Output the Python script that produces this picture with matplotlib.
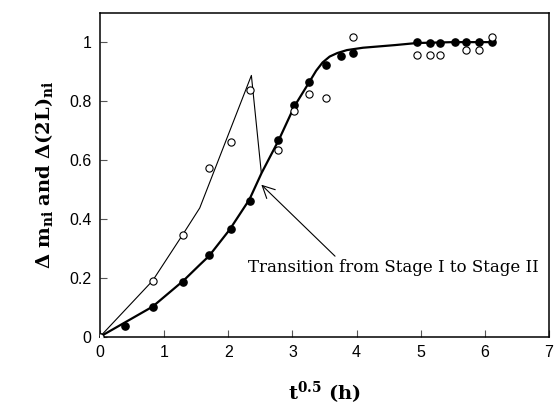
import numpy as np
import matplotlib
matplotlib.use('Agg')
import matplotlib.pyplot as plt

plt.rcParams['mathtext.fontset'] = 'dejavuserif'

# solid symbols: delta m_ni
x_filled = [0.0, 0.39, 0.82, 1.30, 1.70, 2.04, 2.34, 2.78, 3.02, 3.26, 3.52, 3.76, 3.94,
            4.94, 5.14, 5.30, 5.53, 5.71, 5.91, 6.11]
y_filled = [0.0, 0.036, 0.102, 0.187, 0.276, 0.364, 0.462, 0.667, 0.787, 0.864, 0.924, 0.954, 0.962,
            1.0, 0.996, 0.997, 1.0, 1.0, 1.0, 1.0]

# open symbols: delta (2L)_ni
x_open = [0.0, 0.82, 1.30, 1.70, 2.04, 2.34, 2.78, 3.02, 3.26, 3.52, 3.94,
          4.94, 5.14, 5.30, 5.71, 5.91, 6.11]
y_open = [0.0, 0.189, 0.345, 0.574, 0.662, 0.839, 0.633, 0.765, 0.824, 0.811, 1.017,
          0.958, 0.958, 0.958, 0.974, 0.974, 1.019]

# fitted curves
x_fit = [0.0, 0.82, 1.30, 1.555, 1.70, 2.02, 2.33, 2.52, 2.79, 3.03, 3.27, 3.37, 3.47, 3.58,
         3.70, 3.85, 4.10, 4.60, 4.94, 5.50, 6.11]
y_fit = [0.0, 0.102, 0.19, 0.244, 0.274, 0.363, 0.466, 0.556, 0.669, 0.782, 0.867, 0.903, 0.931, 0.951,
         0.963, 0.973, 0.981, 0.99, 0.997, 1.0, 1.0]

x_thin = [0.0, 0.82, 1.30, 1.555, 2.36, 2.515]
y_thin = [0.0, 0.19, 0.35, 0.437, 0.887, 0.556]

xticks = [0, 1, 2, 3, 4, 5, 6, 7]
yticks = [0, 0.2, 0.4, 0.6, 0.8, 1.0]
yticklabels = ['0', '0.2', '0.4', '0.6', '0.8', '1']

fig = plt.figure(figsize=(5.54, 4.09), dpi=100)
ax = fig.add_axes([0.1805, 0.1768, 0.8105, 0.7922])

ax.plot(x_thin, y_thin, color='black', lw=0.8)
ax.plot(x_fit, y_fit, color='black', lw=1.6, solid_joinstyle='round')
ax.plot(x_filled, y_filled, 'o', color='black', ms=5.2, zorder=3)
ax.plot(x_open, y_open, 'o', mfc='white', mec='black', mew=0.8, ms=5.2, zorder=3)

ax.annotate('Transition from Stage I to Stage II', xy=(2.515, 0.516), xytext=(4.57, 0.235),
            ha='center', va='center', fontsize=12, family='DejaVu Serif',
            arrowprops=dict(arrowstyle='->', color='black', lw=0.8,
                            mutation_scale=22, shrinkA=0, shrinkB=0,
                            relpos=(0.31, 1.0)))

ax.set_xlim(0, 7)
ax.set_ylim(0, 1.1)
ax.set_xticks(xticks)
ax.set_yticks(yticks)
ax.set_yticklabels(yticklabels)
ax.tick_params(direction='in', length=5, width=0.8, color='#555555', labelsize=11.5, pad=6)
for lab in ax.get_xticklabels() + ax.get_yticklabels():
    lab.set_family('Liberation Sans')
for s in ax.spines.values():
    s.set_linewidth(1.1)

ax.set_xlabel(r'$\mathbf{t^{0.5}}$ (h)', fontsize=14, fontweight='bold', family='DejaVu Serif', labelpad=14)
ax.set_ylabel(r'$\mathbf{\Delta\ m_{ni}\ and\ \Delta(2L)_{ni}}$', fontsize=14, labelpad=10)

fig.savefig('out.png', dpi=100)
